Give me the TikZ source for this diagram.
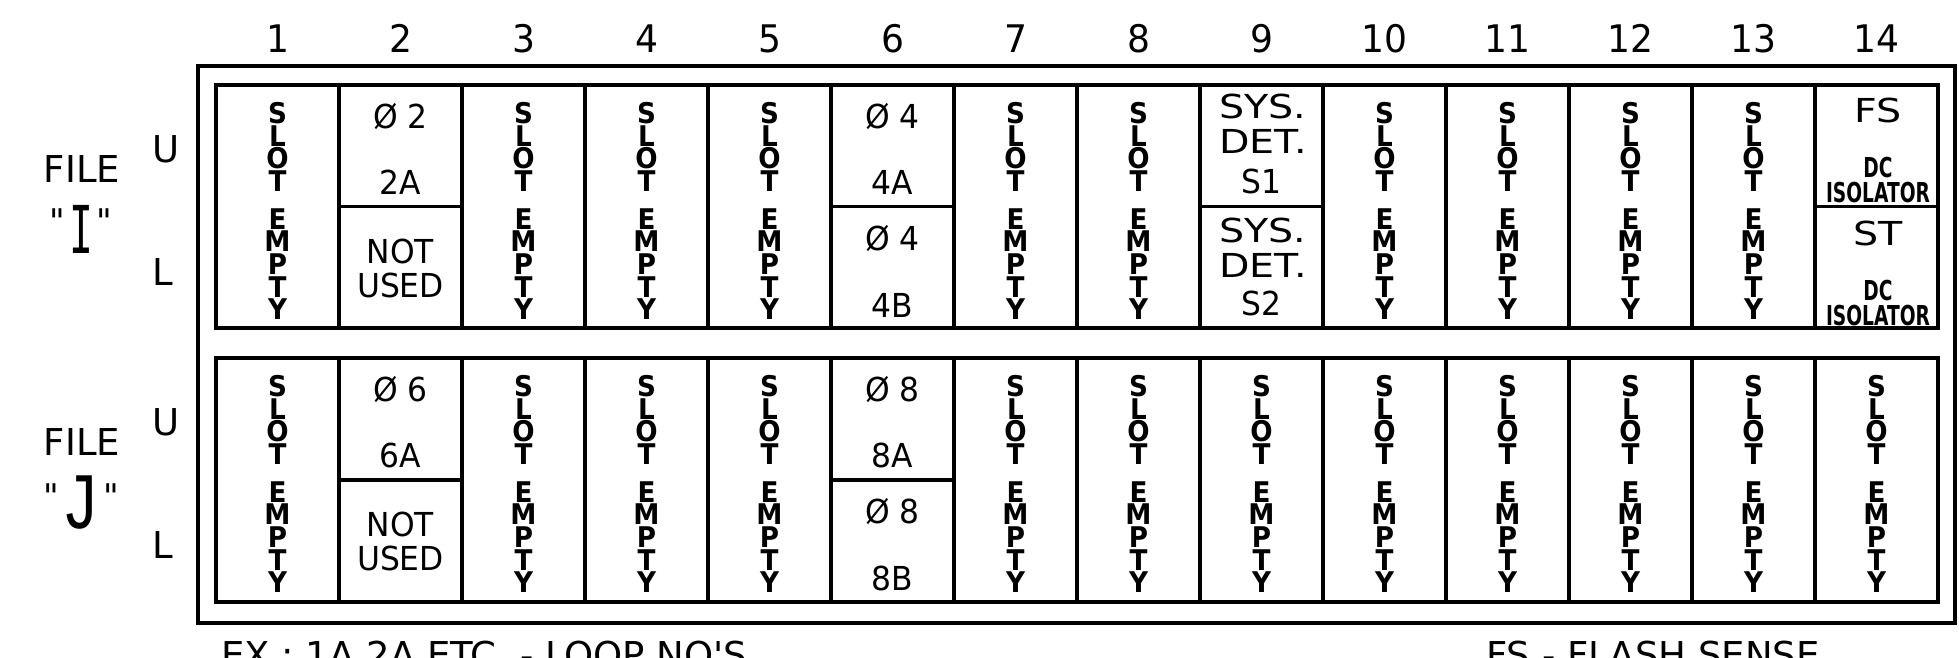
\documentclass[tikz,border=0pt]{standalone}
\usepackage{fontspec}
\usepackage{graphicx}
\setmainfont{DejaVu Sans}
\newfontfamily\cad[FakeStretch=0.95]{DejaVu Sans}
\newfontfamily\cadn{DejaVu Sans}
\newfontfamily\cadw[FakeStretch=1.2]{DejaVu Sans}
\newfontfamily\cadb[FakeStretch=0.92]{DejaVu Sans}
\newfontfamily\cadc[FakeStretch=0.68]{DejaVu Sans}
\newfontfamily\cadmono{DejaVu Sans Mono}
\newfontfamily\cadcour{Liberation Mono}
\newcommand\qmark{\raisebox{20pt}{\cadn\fontsize{34}{34}\selectfont"}}
\tikzset{
  frame/.style={draw, line width=3.2pt, outer sep=0pt, inner sep=0pt, anchor=north west},
  cell/.style={draw, line width=3.2pt, outer sep=0pt, inner sep=0pt,
    minimum width=123pt, minimum height=#1, anchor=north west},
  lbl/.style={inner sep=0pt, anchor=base, font=\cad\fontsize{33}{33}\selectfont},
  wide/.style={inner sep=0pt, anchor=base, font=\cadw\fontsize{33}{33}\selectfont},
  vert/.style={inner sep=0pt, anchor=north, align=center,
    font=\cadb\bfseries\fontsize{28.5}{22.7}\selectfont},
  num/.style={inner sep=0pt, anchor=base, font=\cad\fontsize{38}{38}\selectfont},
  side/.style={inner sep=0pt, anchor=base west, font=\cadn\fontsize{37}{37}\selectfont},
  iso/.style={inner sep=0pt, anchor=base, font=\cadc\bfseries\fontsize{27.4}{27.4}\selectfont},
  note/.style={inner sep=0pt, anchor=base west, font=\cadn\fontsize{37}{37}\selectfont}
}
\begin{document}
\begin{tikzpicture}[x=1pt,y=-1pt]
\useasboundingbox (0,0) rectangle (1959,657);
\clip (0,0) rectangle (1959,657);
% outer frame
\node[frame, minimum width=1757pt, minimum height=557pt] (outer) at (198,66) {};
% column numbers
\foreach \i in {1,...,14} {
  \node[num] (n\i) at ({154.5+123*\i},52) {\i};
}
% side labels
\node[side, anchor=base] (fileI) at (82,182) {FILE};
\node[inner sep=0pt, anchor=base] (qI) at (81,253)
  {\qmark\hspace{4pt}{\cadmono\fontsize{66}{66}\selectfont\scalebox{0.6}[1]{I}}\hspace{4pt}\qmark};
\node[side] (uI) at (152,162) {U};
\node[side] (lI) at (152,285) {L};
\node[side, anchor=base] (fileJ) at (82,455) {FILE};
\node[inner sep=0pt, anchor=base] (qJ) at (81,528)
  {\qmark\hspace{3pt}{\cadcour\fontsize{80}{80}\selectfont\scalebox{0.8}[1]{J}}\hspace{3pt}\qmark};
\node[side] (uJ) at (152,435) {U};
\node[side] (lJ) at (152,558) {L};
% band 1 : empty slots
\foreach \i in {1,3,4,5,7,8,10,11,12,13} {
  \node[cell=243pt] (a\i) at ({216+123*(\i-1)},85) {};
  \node[vert] (sa\i) at ({154.5+123*\i},102) {S\\L\\O\\T\\[15pt]E\\M\\P\\T\\Y};
}
% band 2 : empty slots
\foreach \i in {1,3,4,5,7,8,9,10,11,12,13,14} {
  \node[cell=244pt] (b\i) at ({216+123*(\i-1)},358) {};
  \node[vert] (sb\i) at ({154.5+123*\i},375) {S\\L\\O\\T\\[15pt]E\\M\\P\\T\\Y};
}
% band 1 split cells
\foreach \i in {2,6,9,14} {
  \node[cell=121.5pt] (au\i) at ({216+123*(\i-1)},85) {};
  \node[cell=121.5pt] (al\i) at ({216+123*(\i-1)},206.5) {};
}
% band 2 split cells
\foreach \i in {2,6} {
  \node[cell=122pt] (bu\i) at ({216+123*(\i-1)},358) {};
  \node[cell=122pt] (bl\i) at ({216+123*(\i-1)},480) {};
}
% column 2
\node[lbl] (t2a) at (400.5,128) {Ø 2};
\node[lbl] (t2b) at (400.5,194) {2A};
\node[lbl] (t2c) at (400.5,263) {NOT};
\node[lbl] (t2d) at (400.5,297) {USED};
\node[lbl] (t2e) at (400.5,401) {Ø 6};
\node[lbl] (t2f) at (400.5,467) {6A};
\node[lbl] (t2g) at (400.5,536) {NOT};
\node[lbl] (t2h) at (400.5,570) {USED};
% column 6
\node[lbl] (t6a) at (892.5,128) {Ø 4};
\node[lbl] (t6b) at (892.5,194) {4A};
\node[lbl] (t6c) at (892.5,250) {Ø 4};
\node[lbl] (t6d) at (892.5,317) {4B};
\node[lbl] (t6e) at (892.5,401) {Ø 8};
\node[lbl] (t6f) at (892.5,467) {8A};
\node[lbl] (t6g) at (892.5,523) {Ø 8};
\node[lbl] (t6h) at (892.5,590) {8B};
% column 9
\node[wide] (t9a) at (1263,118) {SYS.};
\node[wide] (t9b) at (1263,153) {DET.};
\node[lbl] (t9c) at (1261.5,193) {S1};
\node[wide] (t9d) at (1263,242) {SYS.};
\node[wide] (t9e) at (1263,277) {DET.};
\node[lbl] (t9f) at (1261.5,315) {S2};
% column 14
\node[wide] (t14a) at (1878,122) {FS};
\node[iso] (t14b) at (1878,177) {DC};
\node[iso] (t14c) at (1878,202) {ISOLATOR};
\node[wide] (t14d) at (1878,245) {ST};
\node[iso] (t14e) at (1878,300) {DC};
\node[iso] (t14f) at (1878,325) {ISOLATOR};
% notes
\node[note] (ex) at (221,668) {EX : 1A,2A ETC. - LOOP NO'S};
\node[note] (fs) at (1486,668) {FS - FLASH SENSE};
\end{tikzpicture}
\end{document}
